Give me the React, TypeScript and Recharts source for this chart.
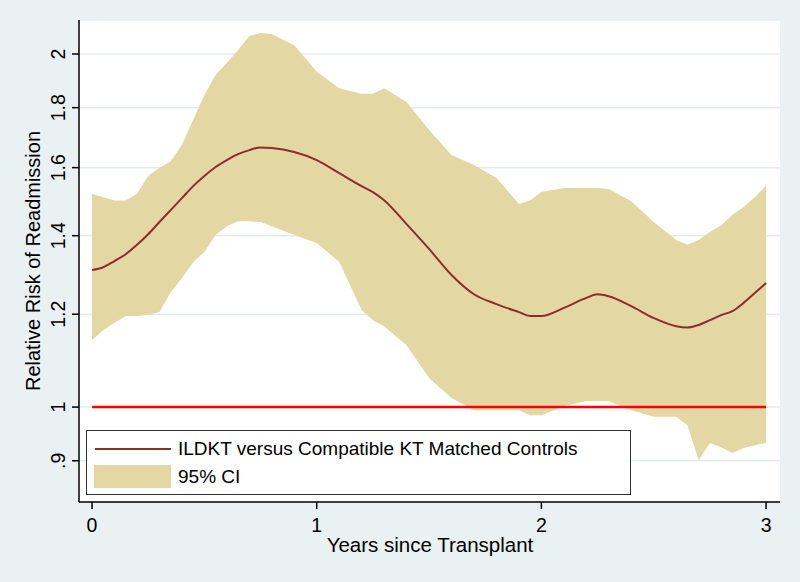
import { ComposedChart, Area, Line, XAxis, YAxis, CartesianGrid, ReferenceLine, Legend } from 'recharts'

// years since transplant
const years = [
  0, 0.05, 0.1, 0.15, 0.2, 0.25, 0.3, 0.35, 0.4, 0.45, 0.5, 0.55, 0.6, 0.65, 0.7, 0.75, 0.8, 0.9,
  1.0, 1.1, 1.2, 1.25, 1.3, 1.4, 1.5, 1.6, 1.7, 1.8, 1.9, 1.95, 2.0, 2.1, 2.2, 2.25, 2.3, 2.4,
  2.5, 2.6, 2.65, 2.7, 2.75, 2.8, 2.85, 2.9, 2.95, 3.0,
]

// relative risk, ILDKT vs compatible KT matched controls
const relRisk = [
  1.309, 1.316, 1.332, 1.35, 1.375, 1.404, 1.438, 1.472, 1.507, 1.543, 1.574, 1.602, 1.624, 1.643, 1.656, 1.665, 1.663, 1.65,
  1.624, 1.583, 1.543, 1.525, 1.501, 1.432, 1.364, 1.296, 1.248, 1.224, 1.205, 1.196, 1.196, 1.215, 1.239, 1.248, 1.243, 1.219,
  1.191, 1.172, 1.169, 1.175, 1.186, 1.198, 1.207, 1.227, 1.251, 1.276,
]

// 95% CI bounds
const ciLow = [
  1.14, 1.163, 1.18, 1.196, 1.196, 1.198, 1.205, 1.253, 1.288, 1.329, 1.356, 1.402, 1.426, 1.44, 1.44, 1.438, 1.426, 1.402,
  1.38, 1.33, 1.21, 1.186, 1.172, 1.129, 1.059, 1.018, 0.994, 0.994, 0.994, 0.984, 0.984, 1.002, 1.012, 1.012, 1.012, 0.994,
  0.981, 0.981, 0.965, 0.901, 0.932, 0.924, 0.914, 0.923, 0.928, 0.932,
]
const ciHigh = [
  1.52, 1.51, 1.5, 1.5, 1.52, 1.574, 1.599, 1.62, 1.673, 1.757, 1.845, 1.919, 1.965, 2.016, 2.072, 2.084, 2.08, 2.035,
  1.931, 1.87, 1.85, 1.85, 1.87, 1.82, 1.723, 1.64, 1.608, 1.568, 1.49, 1.5, 1.525, 1.537, 1.537, 1.537, 1.534, 1.498,
  1.438, 1.388, 1.375, 1.388, 1.41, 1.429, 1.458, 1.481, 1.51, 1.545,
]

const xTicks = [0, 1, 2, 3]
const yTicks = [0.9, 1, 1.2, 1.4, 1.6, 1.8, 2]

const data = years.map((x, i) => ({ x, rr: relRisk[i], band: [ciLow[i], ciHigh[i]] }))

const font = "'Liberation Sans', Arial, sans-serif"
const bandColor = '#e3d8a4'
const lineColor = '#8f2b2b'

const YTick = (props: any) => {
  const { y, payload } = props
  const label = payload.value === 0.9 ? '.9' : String(payload.value)
  return (
    <text x={65} y={y} transform={`rotate(-90, 65, ${y})`} textAnchor="middle" fontFamily={font} fontSize={19.5} fill="#000">
      {label}
    </text>
  )
}

const XTick = (props: any) => {
  const { x, payload } = props
  return (
    <text x={x} y={532} textAnchor="middle" fontFamily={font} fontSize={19.5} fill="#000">
      {payload.value}
    </text>
  )
}

const LegendBox = () => (
  <div style={{ position: 'relative', width: 545, height: 65, border: '1.5px solid #333', background: '#fff', boxSizing: 'border-box', fontFamily: font, fontSize: 19, color: '#000' }}>
    <div style={{ position: 'absolute', left: 8, top: 17, width: 76, height: 2, background: lineColor }} />
    <div style={{ position: 'absolute', left: 91, top: 7, lineHeight: '22px', whiteSpace: 'nowrap' }}>ILDKT versus Compatible KT Matched Controls</div>
    <div style={{ position: 'absolute', left: 7, top: 34, width: 77, height: 23, background: bandColor }} />
    <div style={{ position: 'absolute', left: 91, top: 35, lineHeight: '22px', whiteSpace: 'nowrap' }}>95% CI</div>
  </div>
)

export default function App() {
  return (
    <div style={{ position: 'absolute', left: 0, top: 0, width: 800, height: 582, background: '#e9f1f3' }}>
      <ComposedChart width={800} height={582} data={data} margin={{ top: 20, right: 20, bottom: 30, left: 8 }}>
        <CartesianGrid vertical={false} fill="#fff" stroke="#e3edf1" strokeWidth={1.5} />
        <XAxis
          dataKey="x"
          type="number"
          domain={[-0.058, 3.062]}
          ticks={xTicks}
          allowDataOverflow
          height={50}
          tickSize={7}
          stroke="#000"
          strokeWidth={1.5}
          tick={<XTick />}
          label={{
            content: () => (
              <text x={430} y={552} textAnchor="middle" fontFamily={font} fontSize={20.5} fill="#000">
                Years since Transplant
              </text>
            ),
          }}
        />
        <YAxis
          scale="log"
          domain={[0.83, 2.138]}
          ticks={yTicks}
          allowDataOverflow
          width={71}
          tickSize={7}
          stroke="#000"
          strokeWidth={1.5}
          tick={<YTick />}
          label={{
            content: () => (
              <text x={40} y={261} transform="rotate(-90, 40, 261)" textAnchor="middle" fontFamily={font} fontSize={20} fill="#000">
                Relative Risk of Readmission
              </text>
            ),
          }}
        />
        <Area dataKey="band" type="linear" fill={bandColor} fillOpacity={1} stroke="none" isAnimationActive={false} />
        <Line dataKey="rr" type="monotone" stroke={lineColor} strokeWidth={2} dot={false} isAnimationActive={false} />
        <ReferenceLine segment={[{ x: 0, y: 1 }, { x: 3, y: 1 }]} stroke="#ff0000" strokeWidth={2.5} />
        <Legend
          layout="horizontal"
          verticalAlign="middle"
          wrapperStyle={{ left: 86, top: 430, width: 545 }}
          content={() => <LegendBox />}
        />
      </ComposedChart>
    </div>
  )
}
